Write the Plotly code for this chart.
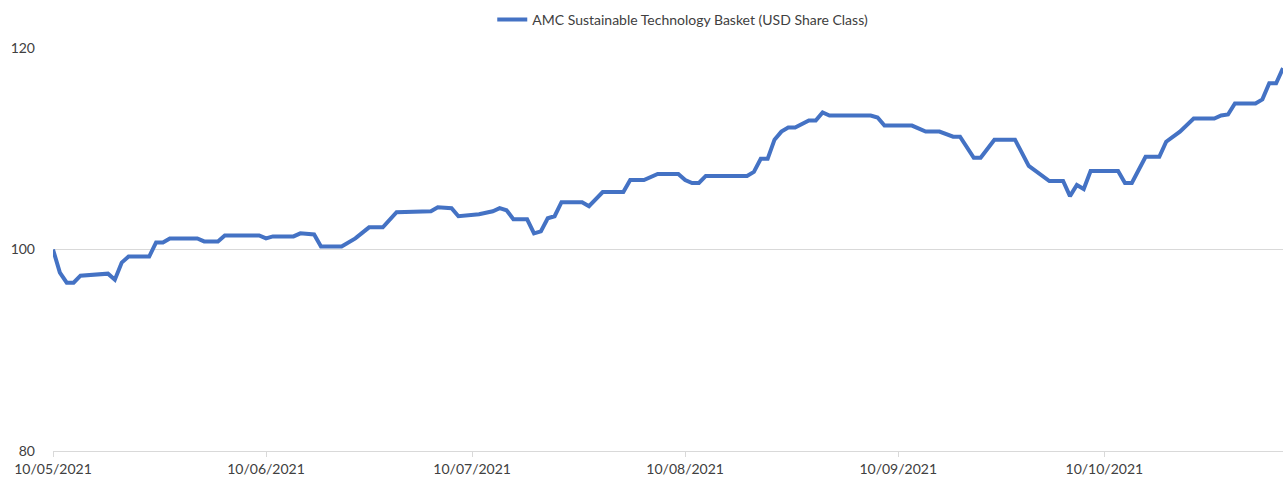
import plotly.graph_objects as go

dates = [
    "2021-05-10", "2021-05-11", "2021-05-12", "2021-05-13", "2021-05-14",
    "2021-05-17", "2021-05-18", "2021-05-19", "2021-05-20", "2021-05-21",
    "2021-05-24", "2021-05-25", "2021-05-26", "2021-05-27", "2021-05-31",
    "2021-06-01", "2021-06-03", "2021-06-04", "2021-06-09", "2021-06-10",
    "2021-06-11", "2021-06-14", "2021-06-15", "2021-06-17", "2021-06-18",
    "2021-06-21", "2021-06-22", "2021-06-23", "2021-06-25", "2021-06-27",
    "2021-06-29", "2021-07-04", "2021-07-05", "2021-07-07", "2021-07-08",
    "2021-07-11", "2021-07-13", "2021-07-14", "2021-07-15", "2021-07-16",
    "2021-07-18", "2021-07-19", "2021-07-20", "2021-07-21", "2021-07-22",
    "2021-07-23", "2021-07-26", "2021-07-27", "2021-07-29", "2021-08-01",
    "2021-08-02", "2021-08-04", "2021-08-06", "2021-08-09", "2021-08-10",
    "2021-08-11", "2021-08-12", "2021-08-13", "2021-08-19", "2021-08-20",
    "2021-08-21", "2021-08-22", "2021-08-23", "2021-08-24", "2021-08-25",
    "2021-08-26", "2021-08-28", "2021-08-29", "2021-08-30", "2021-08-31",
    "2021-09-06", "2021-09-07", "2021-09-08", "2021-09-12", "2021-09-14",
    "2021-09-16", "2021-09-18", "2021-09-19", "2021-09-21", "2021-09-22",
    "2021-09-24", "2021-09-27", "2021-09-29", "2021-09-30", "2021-10-02",
    "2021-10-04", "2021-10-05", "2021-10-06", "2021-10-07", "2021-10-08",
    "2021-10-12", "2021-10-13", "2021-10-14", "2021-10-16", "2021-10-18",
    "2021-10-19", "2021-10-21", "2021-10-23", "2021-10-26", "2021-10-27",
    "2021-10-28", "2021-10-29", "2021-11-01", "2021-11-02", "2021-11-03",
    "2021-11-04", "2021-11-05",
]
values = [
    100.0, 97.7, 96.7, 96.7, 97.4,
    97.5, 97.6, 97.0, 98.7, 99.3,
    99.3, 100.7, 100.7, 101.1, 101.1,
    100.8, 100.8, 101.4, 101.4, 101.1,
    101.3, 101.3, 101.6, 101.5, 100.3,
    100.3, 100.7, 101.1, 102.2, 102.2,
    103.7, 103.8, 104.2, 104.1, 103.3,
    103.5, 103.8, 104.1, 103.9, 103.0,
    103.0, 101.6, 101.8, 103.1, 103.3,
    104.7, 104.7, 104.3, 105.7, 105.7,
    106.9, 106.9, 107.5, 107.5, 106.9,
    106.6, 106.6, 107.3, 107.3, 107.7,
    109.0, 109.0, 110.9, 111.7, 112.1,
    112.1, 112.8, 112.8, 113.6, 113.3,
    113.3, 113.1, 112.3, 112.3, 111.7,
    111.7, 111.2, 111.2, 109.1, 109.1,
    110.9, 110.9, 108.3, 107.8, 106.8,
    106.8, 105.3, 106.4, 106.0, 107.8,
    107.8, 106.6, 106.6, 109.2, 109.2,
    110.7, 111.7, 113.0, 113.0, 113.3,
    113.4, 114.5, 114.5, 114.9, 116.5,
    116.5, 118.0,
]

tick_dates = ["2021-05-10", "2021-06-10", "2021-07-10", "2021-08-10", "2021-09-10", "2021-10-10"]
tick_labels = ["10/05/2021", "10/06/2021", "10/07/2021", "10/08/2021", "10/09/2021", "10/10/2021"]
y_ticks = [80, 100, 120]

series_name = "AMC Sustainable Technology Basket (USD Share Class)"

fig = go.Figure()
fig.add_trace(go.Scatter(
    x=dates, y=values, mode="lines", name=series_name,
    line=dict(color="#4472C4", width=4),
))

font = dict(family="Lato, 'Open Sans', sans-serif", size=14, color="#404040")

fig.update_layout(
    width=1283, height=477,
    margin=dict(l=53, r=0, t=48, b=26, autoexpand=False),
    paper_bgcolor="white", plot_bgcolor="white",
    font=font,
    showlegend=True,
    legend=dict(
        orientation="h", x=0.512, xanchor="center", y=1.07, yanchor="middle",
        font=dict(family="Lato, 'Open Sans', sans-serif", size=14, color="#404040"),
        itemwidth=30, bgcolor="rgba(0,0,0,0)",
    ),
    xaxis=dict(
        type="date",
        range=["2021-05-10", "2021-11-05"],
        tickvals=tick_dates, ticktext=tick_labels,
        showgrid=False, zeroline=False,
        showline=True, linecolor="#d9d9d9", linewidth=1,
        ticks="outside", ticklen=5, tickcolor="#d9d9d9",
        tickfont=font, automargin=False,
    ),
    yaxis=dict(
        range=[80, 120], tickvals=y_ticks,
        showgrid=True, gridcolor="#d9d9d9", gridwidth=1,
        zeroline=False, showline=False,
        ticks="", ticklabelstandoff=17,
        tickfont=font, automargin=False,
    ),
)

fig.write_html(
    "out.html",
    config={"displayModeBar": False},
    post_script="document.body.style.margin='0';document.body.style.overflow='hidden';",
)
